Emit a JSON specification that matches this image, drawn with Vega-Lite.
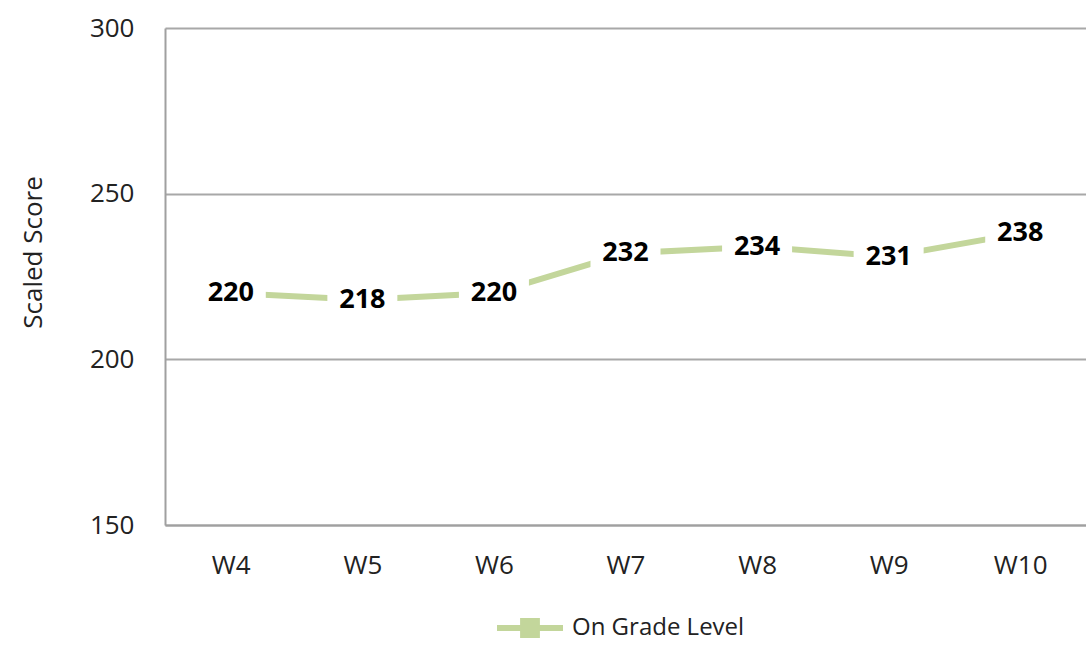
{
  "$schema": "https://vega.github.io/schema/vega-lite/v6.json",
  "autosize": "none",
  "width": 921,
  "height": 497,
  "padding": {"left": 165, "top": 28, "right": 0, "bottom": 127},
  "background": "white",
  "config": {
    "view": {"stroke": null},
    "font": "Open Sans"
  },
  "data": {
    "values": [
      {"week": "W4", "score": 220, "series": "On Grade Level"},
      {"week": "W5", "score": 218, "series": "On Grade Level"},
      {"week": "W6", "score": 220, "series": "On Grade Level"},
      {"week": "W7", "score": 232, "series": "On Grade Level"},
      {"week": "W8", "score": 234, "series": "On Grade Level"},
      {"week": "W9", "score": 231, "series": "On Grade Level"},
      {"week": "W10", "score": 238, "series": "On Grade Level"}
    ]
  },
  "encoding": {
    "x": {
      "field": "week", "type": "ordinal", "sort": null,
      "scale": {"type": "point", "padding": 0.5},
      "axis": {
        "title": null, "labelAngle": 0, "labelFontSize": 26, "labelColor": "#222",
        "labelFont": "Open Sans", "labelPadding": 27, "ticks": false,
        "domainColor": "#a0a0a0", "domainWidth": 2, "grid": false
      }
    },
    "y": {
      "field": "score", "type": "quantitative",
      "scale": {"domain": [150, 300], "nice": false, "zero": false},
      "axis": {
        "values": [150, 200, 250, 300], "title": "Scaled Score", "titleFontSize": 26,
        "titleFontWeight": "normal", "titleColor": "#222", "titleFont": "Open Sans",
        "titleX": -132, "titleY": 224, "titleAngle": -90, "titleBaseline": "middle", "titleAlign": "center",
        "labelFontSize": 26, "labelColor": "#222", "labelFont": "Open Sans", "labelPadding": 31,
        "ticks": false, "domainColor": "#a0a0a0", "domainWidth": 2,
        "gridColor": "#a8a8a8", "gridWidth": 2
      }
    }
  },
  "layer": [
    {
      "mark": {"type": "line", "strokeWidth": 6},
      "encoding": {
        "color": {
          "field": "series", "type": "nominal",
          "scale": {"range": ["#c3d69b"]},
          "legend": {
            "title": null, "orient": "none", "legendX": 332, "legendY": 567,
            "symbolType": "M-1,-0.09H-0.3V-0.3H0.3V-0.09H1V0.09H0.3V0.3H-0.3V0.09H-1Z",
            "symbolSize": 4356, "symbolStrokeWidth": 0, "symbolFillColor": "#c3d69b",
            "labelFontSize": 24, "labelLimit": 400, "labelColor": "#222", "labelFont": "Open Sans", "labelOffset": 9
          }
        }
      }
    },
    {
      "mark": {"type": "point", "shape": "M-1,-0.45H1V0.45H-1Z", "filled": true, "color": "white", "opacity": 1, "size": 4900}
    },
    {
      "mark": {"type": "text", "fontSize": 27, "fontWeight": "bold", "color": "black", "font": "Open Sans"},
      "encoding": {"text": {"field": "score", "type": "quantitative"}}
    }
  ]
}
